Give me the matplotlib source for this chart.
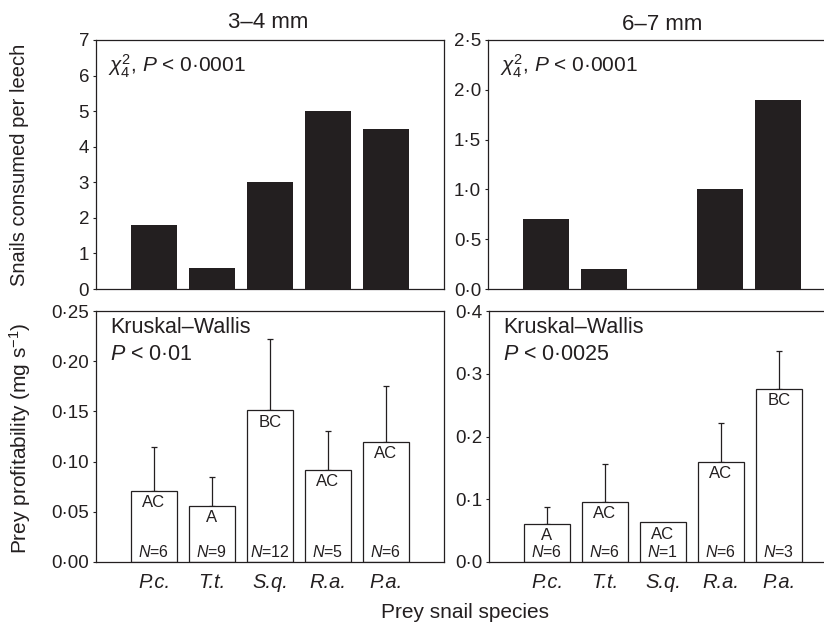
import matplotlib
matplotlib.use("Agg")
import matplotlib.pyplot as plt
from matplotlib.ticker import FixedLocator, FuncFormatter

plt.rcParams["font.family"] = ["Liberation Sans", "DejaVu Sans"]
plt.rcParams["mathtext.fontset"] = "custom"
plt.rcParams["mathtext.rm"] = "Liberation Sans"
plt.rcParams["mathtext.it"] = "Liberation Sans:italic"
plt.rcParams["mathtext.sf"] = "Liberation Sans"

INK = "#231f20"

species = ["P.c.", "T.t.", "S.q.", "R.a.", "P.a."]

# top row: snails consumed per leech
consumed_small = [1.8, 0.6, 3.0, 5.0, 4.5]
consumed_large = [0.7, 0.2, 0.0, 1.0, 1.9]

# bottom row: prey profitability (mean, top of upper error bar)
profit_small = [0.071, 0.056, 0.151, 0.092, 0.120]
profit_small_err = [0.115, 0.085, 0.222, 0.130, 0.175]
letters_small = ["AC", "A", "BC", "AC", "AC"]
n_small = [6, 9, 12, 5, 6]

profit_large = [0.061, 0.096, 0.063, 0.160, 0.276]
profit_large_err = [0.088, 0.156, None, 0.221, 0.336]
letters_large = ["A", "AC", "AC", "AC", "BC"]
n_large = [6, 6, 1, 6, 3]

x = [1, 2, 3, 4, 5]
W, H = 824, 625


def dot_fmt(decimals):
    return FuncFormatter(lambda v, p: f"{v:.{decimals}f}".replace(".", "\u00b7"))


def style_axes(ax, yticks, decimals, ylim):
    ax.set_xlim(0, 6)
    ax.set_ylim(*ylim)
    ax.yaxis.set_major_locator(FixedLocator(yticks))
    ax.yaxis.set_major_formatter(dot_fmt(decimals))
    ax.tick_params(axis="y", length=2, width=0.8, direction="out", labelsize=13.5,
                   colors=INK, pad=3)
    for s in ax.spines.values():
        s.set_linewidth(0.9)
        s.set_color(INK)


fig = plt.figure(figsize=(W / 100, H / 100), dpi=100)

# axes boxes in pixels: left, top, width, height (right column is cut by the page edge)
axes_px = {
    "tl": (96, 40, 348, 249),
    "tr": (488, 40, 348, 249),
    "bl": (96, 311, 348, 251),
    "br": (489, 311, 348, 251),
}


def add(key):
    l, t, w, h = axes_px[key]
    return fig.add_axes([l / W, (H - t - h) / H, w / W, h / H])


ax_tl, ax_tr, ax_bl, ax_br = add("tl"), add("tr"), add("bl"), add("br")

# top row
for ax, vals, ticks, dec, ylim in [
    (ax_tl, consumed_small, range(0, 8), 0, (0, 7)),
    (ax_tr, consumed_large, [0, 0.5, 1, 1.5, 2, 2.5], 1, (0, 2.5)),
]:
    ax.bar(x, vals, width=0.81, color=INK, edgecolor="none")
    style_axes(ax, ticks, dec, ylim)
    ax.set_xticks([])
    ax.text(0.035, 0.95, r"$\chi^2_{\mathit{4}}$, $P$ < 0·0001", transform=ax.transAxes,
            ha="left", va="top", fontsize=15, color=INK)

fig.text(268 / W, 1 - 23 / H, "3\u20134 mm", fontsize=16, color=INK, ha="center", va="center")
fig.text(662 / W, 1 - 24 / H, "6\u20137 mm", fontsize=16, color=INK, ha="center", va="center")

# bottom row
for ax, vals, errs, letters, ns, ticks, dec, ylim, ptxt in [
    (ax_bl, profit_small, profit_small_err, letters_small, n_small,
     [0, 0.05, 0.10, 0.15, 0.20, 0.25], 2, (0, 0.25), "$P$ < 0·01"),
    (ax_br, profit_large, profit_large_err, letters_large, n_large,
     [0, 0.1, 0.2, 0.3, 0.4], 1, (0, 0.4), "$P$ < 0·0025"),
]:
    ax.bar(x, vals, width=0.81, color="white", edgecolor=INK, linewidth=0.9, zorder=2)
    for xi, v, e, lab, n in zip(x, vals, errs, letters, ns):
        if e is not None:
            ax.errorbar([xi], [v], yerr=[[0], [e - v]], fmt="none", ecolor=INK,
                        elinewidth=0.9, capsize=2.2, capthick=0.9, zorder=1)
        ax.annotate(lab, (xi, v), xytext=(0, -3), textcoords="offset points",
                    ha="center", va="top", fontsize=12, color=INK, zorder=3)
        ax.annotate(f"$N$={n}", (xi, 0), xytext=(0, 1.5), textcoords="offset points",
                    ha="center", va="bottom", fontsize=11.5, color=INK, zorder=3)
    style_axes(ax, ticks, dec, ylim)
    ax.set_xticks(x)
    ax.set_xticklabels(species, fontstyle="italic", fontsize=14.5, color=INK)
    ax.tick_params(axis="x", length=0, pad=8)
    ax.text(0.04, 0.975, "Kruskal\u2013Wallis\n" + ptxt, transform=ax.transAxes,
            ha="left", va="top", fontsize=15.5, color=INK, linespacing=1.35)

fig.text(20 / W, 1 - 165 / H, "Snails consumed per leech", rotation=90,
         ha="center", va="center", fontsize=14.5, color=INK)
fig.text(20 / W, 1 - 438 / H, r"Prey profitability (mg s$^{-1}$)", rotation=90,
         ha="center", va="center", fontsize=15, color=INK)
fig.text(465 / W, 1 - 613 / H, "Prey snail species", ha="center", va="center",
         fontsize=15, color=INK)

fig.savefig("out.png", dpi=100)
